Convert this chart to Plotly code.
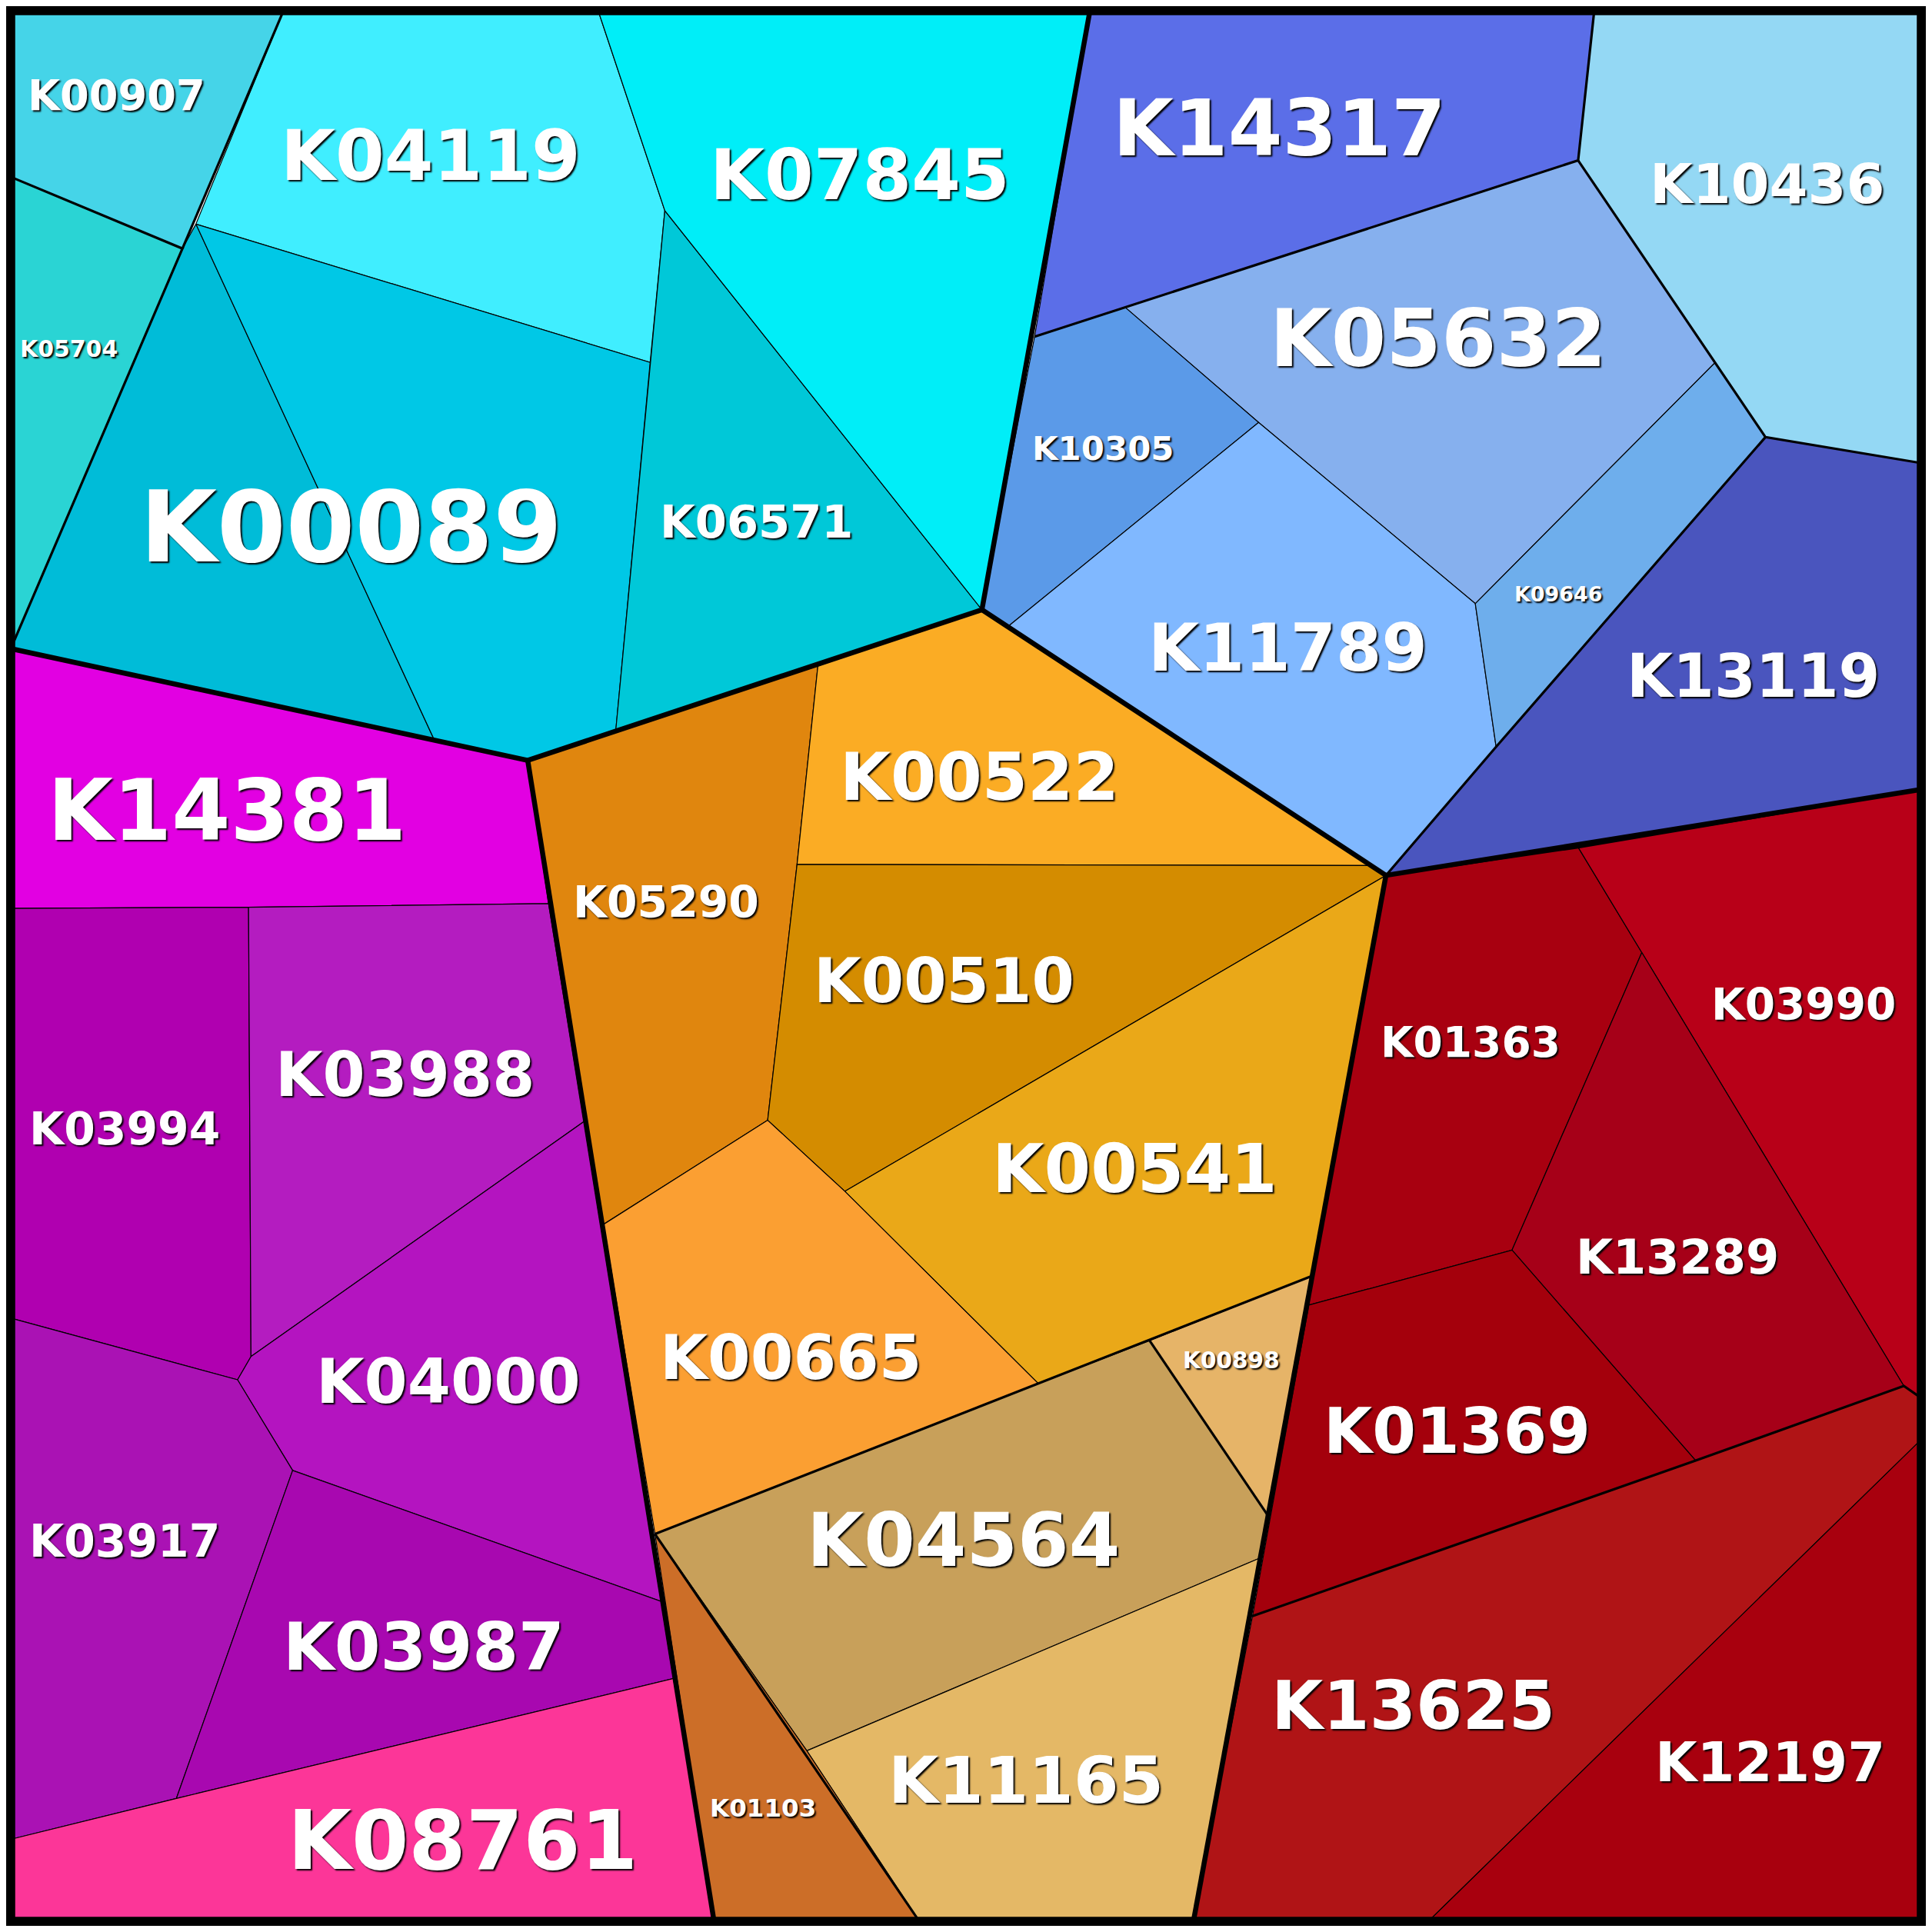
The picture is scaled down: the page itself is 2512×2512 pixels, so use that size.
import plotly.graph_objects as go

# Voronoi treemap, vertex coordinates (1568-unit canvas, y downwards)
CELL_NAMES = [
    "K00907", "K05704", "K04119", "K00089", "", "K06571", "K07845",
    "K14317", "K10436", "K05632", "K10305", "K11789", "K09646", "K13119",
    "K05290", "K00522", "K00510", "K00541", "K00665", "K00898", "K04564", "K11165", "K01103",
    "K14381", "K03994", "K03988", "K04000", "K03917", "K03987", "K08761",
    "K01363", "K03990", "K13289", "K01369", "K13625", "K12197",
]
CELL_POLYGONS = [
    [(5, 5), (226, 5), (144, 198), (5, 140)],
    [(5, 140), (144, 198), (5, 522)],
    [(226, 5), (484, 5), (538, 167), (526, 291), (155, 178)],
    [(144, 198), (155, 178), (350, 600), (5, 525), (5, 522)],
    [(155, 178), (526, 291), (498, 591), (426, 616), (350, 600)],
    [(538, 167), (797, 493), (498, 591), (526, 291)],
    [(484, 5), (885, 5), (797, 493), (538, 167)],
    [(885, 5), (1297, 5), (1284, 126), (914, 246), (840, 270)],
    [(1297, 5), (1563, 5), (1563, 373), (1437, 352), (1396, 291), (1284, 126)],
    [(914, 246), (1284, 126), (1396, 291), (1200, 488), (1023, 340)],
    [(840, 270), (914, 246), (1023, 340), (818, 507), (797, 493)],
    [(818, 507), (1023, 340), (1200, 488), (1217, 605), (1127, 710), (797, 493)],
    [(1200, 488), (1396, 291), (1437, 352), (1217, 605)],
    [(1437, 352), (1563, 373), (1563, 640), (1127, 710), (1217, 605)],
    [(426, 616), (498, 591), (663, 539), (646, 701), (622, 910), (488, 995)],
    [(663, 539), (797, 493), (1115, 702), (646, 701)],
    [(646, 701), (1115, 702), (1127, 710), (685, 968), (622, 910)],
    [(685, 968), (1127, 710), (1067, 1037), (934, 1090), (843, 1125)],
    [(488, 995), (622, 910), (685, 968), (843, 1125), (530, 1248)],
    [(934, 1090), (1067, 1037), (1030, 1232)],
    [(530, 1248), (843, 1125), (934, 1090), (1030, 1232), (1023, 1268), (654, 1425)],
    [(654, 1425), (1023, 1268), (970, 1563), (745, 1563)],
    [(530, 1248), (654, 1425), (745, 1563), (578, 1563)],
    [(5, 525), (426, 616), (443, 733), (198, 736), (5, 737)],
    [(5, 737), (198, 736), (200, 1103), (189, 1122), (5, 1072)],
    [(198, 736), (443, 733), (472, 911), (200, 1103)],
    [(200, 1103), (472, 911), (535, 1303), (234, 1196), (189, 1122)],
    [(5, 1072), (189, 1122), (234, 1196), (139, 1464), (5, 1497)],
    [(234, 1196), (535, 1303), (545, 1366), (139, 1464)],
    [(5, 1497), (139, 1464), (545, 1366), (578, 1563), (5, 1563)],
    [(1127, 710), (1284, 687), (1336, 773), (1230, 1016), (1064, 1061), (1067, 1037)],
    [(1284, 687), (1563, 640), (1563, 1136), (1550, 1127), (1336, 773)],
    [(1336, 773), (1550, 1127), (1380, 1188), (1230, 1016)],
    [(1064, 1061), (1230, 1016), (1380, 1188), (1018, 1315)],
    [(1018, 1315), (1380, 1188), (1550, 1127), (1563, 1136), (1563, 1172), (1163, 1563), (970, 1563)],
    [(1563, 1172), (1563, 1563), (1163, 1563)],
]
CELL_COLORS = [
    "#45D4E8", "#2AD4D4", "#40EEFF", "#00BCD8", "#00C8E6", "#00C8D8", "#00EEF8",
    "#5B6EE8", "#94D8F4", "#86B0EE", "#5B9AE8", "#80B8FF", "#6EAEEC", "#4A55BE",
    "#E0860E", "#FBAC24", "#D48C00", "#EAA818", "#FB9F32", "#E6B468", "#C8A05A", "#E4B866", "#CC6E28",
    "#E200E2", "#B000B0", "#B41CC0", "#B414C0", "#AA12B4", "#A808B0", "#FC3698",
    "#A80010", "#B80018", "#A60018", "#A4000C", "#B01416", "#A8000E",
]

LABEL_NAMES = [
    "K00907", "K04119", "K07845", "K14317", "K10436", "K05632", "K05704", "K00089",
    "K06571", "K10305", "K11789", "K09646", "K13119", "K14381", "K00522", "K05290",
    "K00510", "K03990", "K01363", "K03988", "K03994", "K00541", "K13289", "K00665",
    "K00898", "K04000", "K01369", "K04564", "K03917", "K03987", "K13625", "K12197",
    "K11165", "K01103", "K08761",
]
LABEL_X = [90, 347, 697, 1040, 1438, 1170, 51, 282, 613, 896, 1047, 1268, 1427, 180, 795, 539,
           766, 1468, 1196, 326, 97, 922, 1365, 641, 1001, 361, 1185, 782, 97, 341, 1149, 1441,
           833, 618, 373]
LABEL_Y = [73, 122, 138, 100, 145, 272, 280, 425, 421, 361, 524, 480, 547, 657, 630, 732,
           796, 816, 846, 873, 917, 950, 1022, 1104, 1106, 1123, 1164, 1253, 1254, 1340, 1388, 1435,
           1449, 1472, 1498]
LABEL_WIDTH = [145, 245, 245, 272, 192, 275, 80, 345, 158, 116, 228, 72, 207, 293, 228, 152,
               213, 151, 147, 212, 156, 233, 166, 214, 79, 216, 218, 256, 156, 230, 232, 188,
               225, 87, 286]

MEDIUM_LINES = [
    [(840, 270), (914, 246), (1284, 126), (1297, 5)],
    [(1284, 126), (1437, 352), (1563, 373)],
    [(1437, 352), (1217, 605), (1127, 710)],
    [(530, 1248), (843, 1125), (1067, 1037)],
    [(530, 1248), (745, 1563)],
    [(934, 1090), (1030, 1232)],
    [(144, 198), (226, 5)],
    [(5, 140), (144, 198), (5, 522)],
    [(1127, 710), (1284, 687), (1563, 640)],
    [(1018, 1315), (1380, 1188), (1550, 1127), (1563, 1136)],
]
GROUP_LINES = [
    [(5, 525), (426, 616), (797, 493), (885, 5)],
    [(797, 493), (1127, 710), (1563, 640)],
    [(426, 616), (578, 1563)],
    [(1127, 710), (1067, 1037), (970, 1563)],
]

SIZE = 2496  # page body margin takes the rest of the 2512 window
S = SIZE / 1568

fig = go.Figure()
for name, poly, color in zip(CELL_NAMES, CELL_POLYGONS, CELL_COLORS):
    xs = [p[0] for p in poly] + [poly[0][0]]
    ys = [p[1] for p in poly] + [poly[0][1]]
    fig.add_trace(go.Scatter(x=xs, y=ys, mode="lines", fill="toself", fillcolor=color,
                             line={"color": "#000000", "width": 1.2}, name=name,
                             hoverinfo="text", text=name, showlegend=False))

for lines, width in [(MEDIUM_LINES, 3.2), (GROUP_LINES, 6.5)]:
    for seg in lines:
        fig.add_trace(go.Scatter(x=[p[0] for p in seg], y=[p[1] for p in seg], mode="lines",
                                 line={"color": "#000000", "width": width},
                                 hoverinfo="skip", showlegend=False))

for name, x, y, w in zip(LABEL_NAMES, LABEL_X, LABEL_Y, LABEL_WIDTH):
    fig.add_annotation(x=x, y=y, text=f"<b>{name}</b>", showarrow=False,
                       font={"family": "DejaVu Sans", "size": w / 4.255 * S, "color": "#FFFFFF",
                             "shadow": "2px 2px 2px #000000"})

fig.add_shape(type="rect", x0=3, y0=3, x1=1565, y1=1565,
              line={"color": "#000000", "width": 14})

fig.update_xaxes(range=[0, 1568], visible=False)
fig.update_yaxes(range=[1568, 0], visible=False)
fig.update_layout(width=SIZE, height=SIZE, margin={"l": 0, "r": 0, "t": 0, "b": 0},
                  paper_bgcolor="#FFFFFF", plot_bgcolor="#FFFFFF")

fig.write_html("out.html")
